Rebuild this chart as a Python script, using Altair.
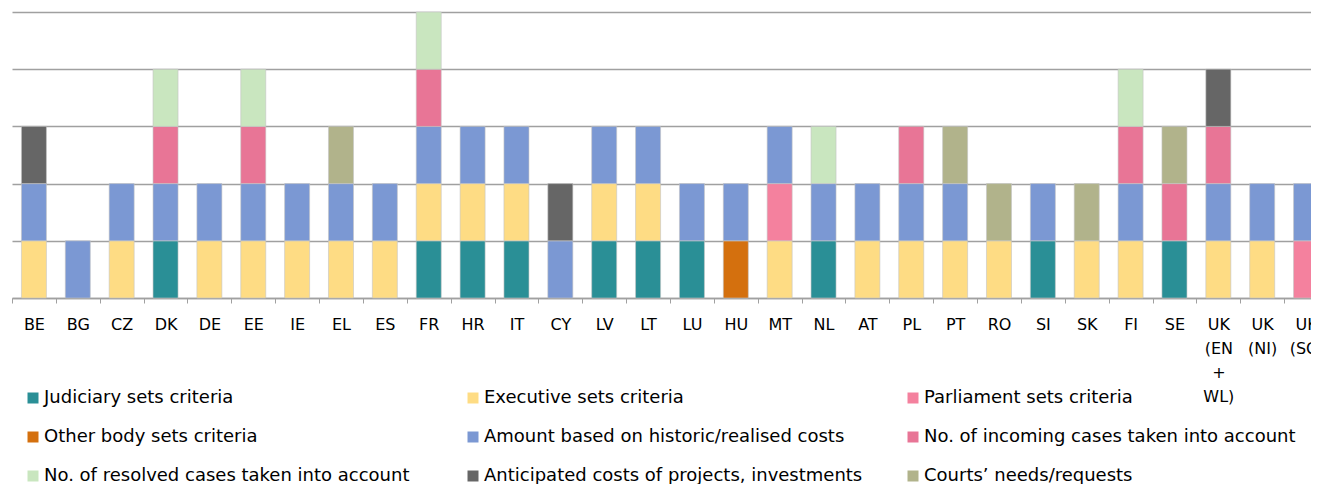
import altair as alt
import pandas as pd

countries = ["BE", "BG", "CZ", "DK", "DE", "EE", "IE", "EL", "ES", "FR", "HR", "IT",
             "CY", "LV", "LT", "LU", "HU", "MT", "NL", "AT", "PL", "PT", "RO", "SI",
             "SK", "FI", "SE", "UK (EN + WL)", "UK (NI)", "UK (SC)"]

series_names = [
    "Judiciary sets criteria",
    "Executive sets criteria",
    "Parliament sets criteria",
    "Other body sets criteria",
    "Amount based on historic/realised costs",
    "No. of incoming cases taken into account",
    "No. of resolved cases taken into account",
    "Anticipated costs of projects, investments",
    "Courts\u2019 needs/requests",
]
series_colors = ["#2a8f96", "#fedc84", "#f4819e", "#d4700e", "#7b98d3",
                 "#e87596", "#c9e6bf", "#666666", "#b1b38b"]

#            BE BG CZ DK DE EE IE EL ES FR HR IT CY LV LT LU HU MT NL AT PL PT RO SI SK FI SE EW NI SC
judiciary  = [0, 0, 0, 1, 0, 0, 0, 0, 0, 1, 1, 1, 0, 1, 1, 1, 0, 0, 1, 0, 0, 0, 0, 1, 0, 0, 1, 0, 0, 0]
executive  = [1, 0, 1, 0, 1, 1, 1, 1, 1, 1, 1, 1, 0, 1, 1, 0, 0, 1, 0, 1, 1, 1, 1, 0, 1, 1, 0, 1, 1, 0]
parliament = [0, 0, 0, 0, 0, 0, 0, 0, 0, 0, 0, 0, 0, 0, 0, 0, 0, 1, 0, 0, 0, 0, 0, 0, 0, 0, 0, 0, 0, 1]
other_body = [0, 0, 0, 0, 0, 0, 0, 0, 0, 0, 0, 0, 0, 0, 0, 0, 1, 0, 0, 0, 0, 0, 0, 0, 0, 0, 0, 0, 0, 0]
historic   = [1, 1, 1, 1, 1, 1, 1, 1, 1, 1, 1, 1, 1, 1, 1, 1, 1, 1, 1, 1, 1, 1, 0, 1, 0, 1, 0, 1, 1, 1]
incoming   = [0, 0, 0, 1, 0, 1, 0, 0, 0, 1, 0, 0, 0, 0, 0, 0, 0, 0, 0, 0, 1, 0, 0, 0, 0, 1, 1, 1, 0, 0]
resolved   = [0, 0, 0, 1, 0, 1, 0, 0, 0, 1, 0, 0, 0, 0, 0, 0, 0, 0, 1, 0, 0, 0, 0, 0, 0, 1, 0, 0, 0, 0]
anticipated= [1, 0, 0, 0, 0, 0, 0, 0, 0, 0, 0, 0, 1, 0, 0, 0, 0, 0, 0, 0, 0, 0, 0, 0, 0, 0, 0, 1, 0, 0]
courts     = [0, 0, 0, 0, 0, 0, 0, 1, 0, 0, 0, 0, 0, 0, 0, 0, 0, 0, 0, 0, 0, 1, 1, 0, 1, 0, 1, 0, 0, 0]

series_values = [judiciary, executive, parliament, other_body, historic,
                 incoming, resolved, anticipated, courts]

# legend reads row-wise in the reference; Vega fills legend columns first
legend_order = [0, 3, 6, 1, 4, 7, 2, 5, 8]
legend_domain = [series_names[i] for i in legend_order]
legend_range = [series_colors[i] for i in legend_order]

rows = []
for si, (name, vals) in enumerate(zip(series_names, series_values)):
    for c, v in zip(countries, vals):
        if v:
            rows.append({"country": c, "series": name, "order": si, "value": v})
df = pd.DataFrame(rows)

FONT = "DejaVu Sans"

chart = alt.Chart(df).mark_bar(
    width=alt.RelativeBandSize(0.57), stroke="#c4c4c4", strokeWidth=0.6
).encode(
    x=alt.X("country:N", sort=countries,
            scale=alt.Scale(range=[0, 1316], paddingInner=0, paddingOuter=0),
            axis=alt.Axis(title=None, labelAngle=0, labelFont=FONT, labelFontSize=16,
                          labelColor="#000000", labelPadding=13, labelLineHeight=24,
                          labelExpr="isValid(datum.value) ? split(datum.value, ' ') : ''",
                          labelOverlap=False, labelBound=False, tickBand="extent",
                          tickSize=5, tickColor="#a0a0a0", tickWidth=1,
                          domainColor="#a0a0a0", domainWidth=1.5, grid=False)),
    y=alt.Y("value:Q", stack="zero",
            scale=alt.Scale(domain=[0, 5], nice=False),
            axis=alt.Axis(title=None, labels=False, ticks=False, domain=False,
                          grid=True, gridColor="#a0a0a0", gridWidth=1.5,
                          values=[0, 1, 2, 3, 4, 5])),
    color=alt.Color("series:N",
                    scale=alt.Scale(domain=legend_domain, range=legend_range),
                    legend=alt.Legend(title=None, orient="none", legendX=12, legendY=377,
                                      columns=3, gridAlign="all",
                                      symbolType="square", symbolSize=121,
                                      symbolStrokeWidth=0, symbolOpacity=1,
                                      labelFont=FONT, labelFontSize=18,
                                      labelColor="#000000", labelLimit=0,
                                      rowPadding=21, columnPadding=41, padding=0,
                                      labelOffset=2)),
    order=alt.Order("order:Q", sort="ascending"),
).properties(
    width=1299, height=286,
    autosize=alt.AutoSizeParams(type="none"),
    padding={"left": 4, "top": 4, "right": 0, "bottom": 186},
).configure_view(stroke=None)

chart.save("out.html", embed_options={"renderer": "svg", "actions": False})
